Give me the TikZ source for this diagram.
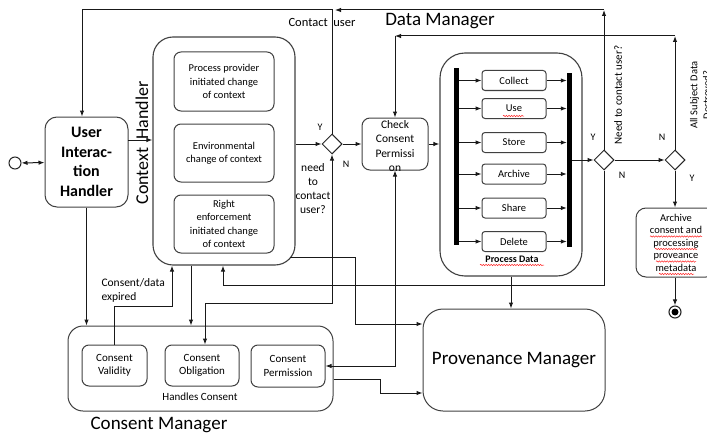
\documentclass[tikz,border=0pt]{standalone}
\usepackage{fontspec}
\setmainfont{Carlito}
\usetikzlibrary{shapes.geometric,arrows.meta,decorations.pathmorphing}

\begin{document}
\begin{tikzpicture}[x=1pt,y=-1pt,
  >={Latex[length=6pt,width=4.5pt]},
  line/.style={line width=1pt,draw=black!90},
  box/.style={draw=black!75,line width=1pt,rounded corners=7pt,align=center,inner sep=1pt,font=\fontsize{10.5}{13.3}\selectfont},
  frame/.style={draw=black!75,line width=1.1pt,rounded corners=20pt},
  choice/.style={diamond,draw=black!85,line width=1pt,fill=white,minimum size=20pt,inner sep=0pt},
  bar/.style={fill=black,inner sep=0pt,minimum width=5pt},
  yn/.style={font=\fontsize{10}{12}\selectfont},
  squiggle/.style={red!85,line width=0.5pt,decorate,decoration={snake,amplitude=0.7pt,segment length=2.6pt}}]
\useasboundingbox (0,0) rectangle (707,436);

\node[circle,draw=black!85,line width=1pt,minimum size=12pt,inner sep=0pt] (start) at (15,163) {};
\node[box,rounded corners=12pt,minimum width=83pt,minimum height=90pt,font=\bfseries\fontsize{16}{19.5}\selectfont] (uih) at (86.5,162) {User\\Interac-\\tion\\Handler};

\node[frame,minimum width=142pt,minimum height=228pt] (ctx) at (224,151) {};
\node[rotate=90,font=\fontsize{18}{20}\selectfont] (ctxlabel) at (142,143) {Context\ \ Handler};
\node[box,minimum width=100pt,minimum height=59pt] (provider) at (224,81.5) {Process provider\\initiated change\\of context};
\node[box,minimum width=100pt,minimum height=58pt] (environment) at (224,153) {Environmental\\change of context};
\node[box,minimum width=100pt,minimum height=58pt] (enforcement) at (224,224) {Right\\enforcement\\initiated change\\of context};

\node[choice] (contact) at (332,144) {};
\node[yn] (contacty) at (320,127) {Y};
\node[yn] (contactn) at (346,164) {N};
\node[font=\fontsize{11.5}{14}\selectfont,align=center] (contactq) at (313,189) {need\\to\\contact\\user?};
\node[font=\fontsize{12.5}{14}\selectfont] (contactlabel) at (322,22) {Contact\ \ user};

\node[box,rounded corners=8pt,minimum width=66pt,minimum height=52pt] (check) at (395,144) {};
\node[font=\fontsize{11.5}{14.5}\selectfont,align=center] (checktext) at (395,146) {Check\\Consent\\Permissi\\on};

\node[font=\fontsize{19}{22}\selectfont] (dmlabel) at (440,21) {Data Manager};
\node[frame,rounded corners=25pt,minimum width=142pt,minimum height=223pt] (process) at (511,164.5) {};
\node[bar,minimum height=177pt] (fork) at (456.5,156.5) {};
\node[bar,minimum height=174pt] (join) at (569.5,160) {};
\foreach \name/\txt/\y in {collect/Collect/80.5,use/Use/108.5,store/Store/142.5,archive/Archive/174,share/Share/208,delete/Delete/241.5}{
  \node[box,rounded corners=3pt,minimum width=64pt,minimum height=20pt] (\name) at (514,\y) {\txt};
  \draw[line,->] (fork.east |- \name) -- (\name);
  \draw[line,->] (\name) -- (join.west |- \name);
}
\node[font=\bfseries\fontsize{10}{12}\selectfont] (pdlabel) at (512,259) {Process Data};

\node[choice] (needcontact) at (604,160) {};
\node[yn] (needy) at (593,137) {Y};
\node[yn] (needn) at (622,175) {N};
\node[rotate=90,font=\fontsize{11}{13}\selectfont] (needq) at (618,95) {Need to contact user?};
\node[choice] (destroyed) at (675,160) {};
\node[yn] (destroyedn) at (662,137) {N};
\node[yn] (destroyedy) at (692,178) {Y};
\node[rotate=90,align=center,font=\fontsize{10.5}{13}\selectfont] (destroyedq) at (701,95) {All Subject Data\\Destroyed?};

\node[box,rounded corners=10pt,minimum width=80pt,minimum height=69pt,font=\fontsize{10.5}{12.5}\selectfont] (archivebox) at (676,242.5) {Archive\\consent and\\processing\\proveance\\metadata};
\node[circle,draw=black!85,line width=1.1pt,minimum size=12pt,inner sep=0pt] (end) at (675,312) {};
\node[circle,fill=black,minimum size=7pt,inner sep=0pt] (enddot) at (end) {};

\node[box,rounded corners=20pt,minimum width=182pt,minimum height=102pt,font=\fontsize{19}{22}\selectfont] (prov) at (514,360) {Provenance Manager};

\node[box,rounded corners=15pt,minimum width=265pt,minimum height=85pt] (cm) at (200.5,368.5) {};
\node[box,minimum width=65pt,minimum height=41pt,font=\fontsize{11}{13.5}\selectfont] (validity) at (114.5,365.5) {Consent\\Validity};
\node[box,minimum width=74pt,minimum height=41pt,font=\fontsize{11}{13.5}\selectfont] (obligation) at (202,365.5) {Consent\\Obligation};
\node[box,minimum width=74pt,minimum height=42pt,font=\fontsize{11}{13.5}\selectfont] (permission) at (288,366) {Consent\\Permission};
\node[font=\fontsize{11}{13}\selectfont] (handles) at (200,397) {Handles Consent};
\node[font=\fontsize{19}{22}\selectfont] (cmlabel) at (159,425) {Consent Manager};
\node[anchor=west,align=left,font=\fontsize{11.5}{13.5}\selectfont] (expiredlabel) at (98,290.5) {Consent/data\\expired};

\coordinate (uihout) at (128,140);
\coordinate (topleft) at (82,10);
\coordinate (topright) at (604,10);
\coordinate (contactend) at (335,10);
\coordinate (loopright) at (675,36);
\coordinate (loopleft) at (395,36);
\coordinate (backbend) at (223,285);
\coordinate (expired) at (172,306);
\coordinate (obligbend) at (205,303);
\coordinate (ctxdown) at (191,300);
\coordinate (provstart) at (290,257);
\coordinate (provbend) at (355,324);
\coordinate (cmbend) at (380,379);
\coordinate (cmin) at (380,393);

\draw[line,<->] (start) -- (uih);
\draw[line,->] (uihout) -- (uihout -| ctx.west);
\draw[line,->] (ctx.east |- contact) -- (contact);
\draw[line,->] (contact) -- (check);
\draw[line,->] (contact.north) |- (topleft) -- (topleft |- uih.north);
\draw[line,->] (needcontact.north) -- (topright);
\draw[line,->] (topright) -- (contactend);
\draw[line,->] (join.east |- needcontact) -- (needcontact);
\draw[line,->] (needcontact) -- (destroyed);
\draw[line,->] (destroyed.north) -- (loopright);
\draw[line,->] (loopright) -- (loopleft);
\draw[line,->] (loopleft) -- (check.north);
\draw[line,->] (check) -- (check -| process.west);
\draw[line,->] (process.south) -- (process.south |- prov.north);
\draw[line,->] (destroyed.south) -- (destroyed.south |- archivebox.north);
\draw[line,->] (archivebox.south -| end) -- (end);
\draw[line,->] (needcontact.south) |- (backbend) -- (backbend |- ctx.south);
\draw[line,<->] (obligation.north -| obligbend) -- (obligbend) -| (contact.south);
\draw[line,->] (uih.south) -- (uih.south |- cm.north);
\draw[line,->] (validity.north) |- (expired) -- (expired |- ctx.south);
\draw[line,->] (ctx.south -| ctxdown) -- (cm.north -| ctxdown);
\draw[line,->] (provstart) -| (provbend) -- (provbend -| prov.west);
\draw[line,<->] (permission) -| (check.south);
\draw[line,->] (cmbend -| cm.east) -| (cmin) -- (cmin -| prov.west);

\draw[squiggle] (503,116) -- (524,116);
\draw[squiggle] (480,265) -- (544,265);
\draw[squiggle] (650,236.5) -- (702,236.5);
\draw[squiggle] (655,249) -- (697,249);
\draw[squiggle] (656,261.5) -- (696,261.5);
\draw[squiggle] (659,274) -- (694,274);
\end{tikzpicture}
\end{document}
